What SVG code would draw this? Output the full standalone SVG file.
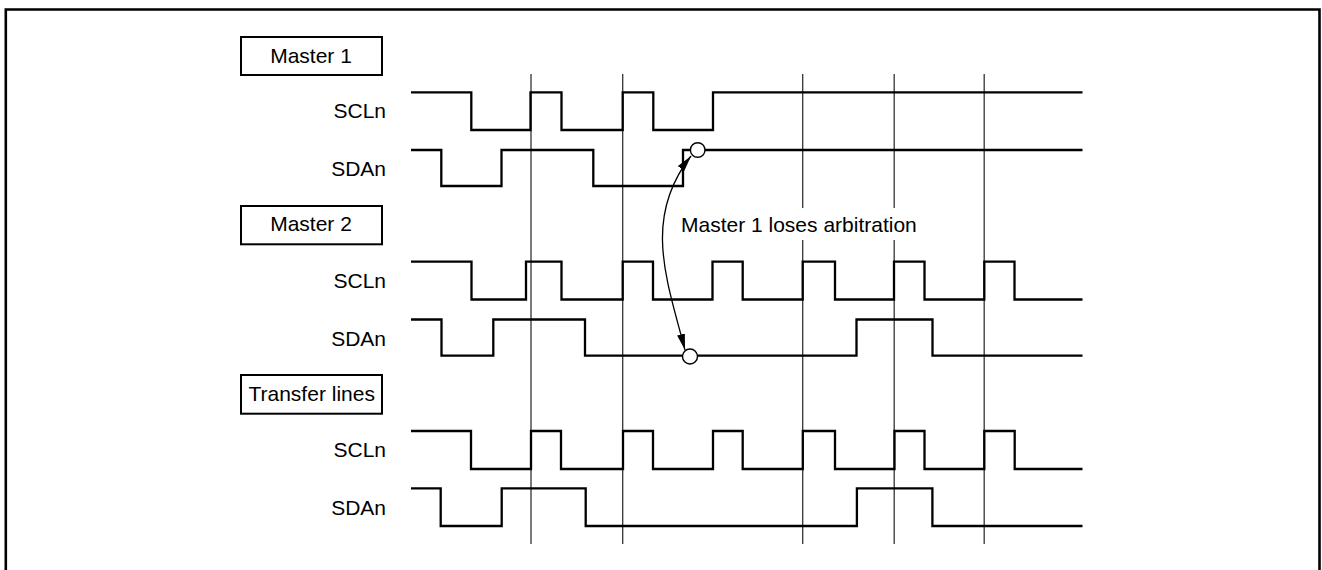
<svg xmlns="http://www.w3.org/2000/svg" width="1322" height="570" viewBox="0 0 1322 570">
<style>
.lbl{font-family:"Liberation Sans",Arial,sans-serif;font-size:21px;fill:#000}
.box{fill:#fff;stroke:#000;stroke-width:2}
.wave{fill:none;stroke:#000;stroke-width:2.3;stroke-linejoin:miter}
.grid{stroke:#333;stroke-width:1.3}
.ring{fill:#fff;stroke:#000;stroke-width:1.4}
</style>
<defs>
<marker id="ah" viewBox="0 0 16 8" refX="16" refY="4" markerWidth="16" markerHeight="8" markerUnits="userSpaceOnUse" orient="auto-start-reverse">
<path d="M0,0 L16,4 L0,8 z" fill="#000"/>
</marker>
</defs>
<rect width="1322" height="570" fill="#fff"/>
<path d="M5.8,570 V9.5 H1319.5 V570" fill="none" stroke="#000" stroke-width="2.6"/>
<g id="gridlines">
<line class="grid" x1="531" y1="74" x2="531" y2="544"/>
<line class="grid" x1="622.7" y1="74" x2="622.7" y2="544"/>
<line class="grid" x1="802.7" y1="74" x2="802.7" y2="208"/>
<line class="grid" x1="802.7" y1="240" x2="802.7" y2="544"/>
<line class="grid" x1="894.2" y1="74" x2="894.2" y2="208"/>
<line class="grid" x1="894.2" y1="240" x2="894.2" y2="544"/>
<line class="grid" x1="984.2" y1="74" x2="984.2" y2="544"/>
</g>
<g id="master1">
<rect class="box" x="241" y="37" width="141" height="38"/>
<text class="lbl" x="311" y="62.7" text-anchor="middle">Master 1</text>
<text class="lbl" x="386" y="118.3" text-anchor="end">SCLn</text>
<text class="lbl" x="386" y="176" text-anchor="end">SDAn</text>
<path class="wave" d="M411,92.3 H471.3 V130 H530.5 V92.3 H561.5 V130 H622.7 V92.3 H653.3 V130 H713 V92.3 H1082.5"/>
<path class="wave" d="M411,150 H441.3 V186 H501.5 V150 H593.3 V186 H683 V150 H1082.5"/>
</g>
<g id="master2">
<rect class="box" x="241" y="206" width="141" height="38.3"/>
<text class="lbl" x="311" y="230.7" text-anchor="middle">Master 2</text>
<text class="lbl" x="386" y="287.7" text-anchor="end">SCLn</text>
<text class="lbl" x="386" y="345.5" text-anchor="end">SDAn</text>
<path class="wave" d="M411,261.7 H471.5 V299.5 H526 V261.7 H561.5 V299.5 H622.7 V261.7 H653 V299.5 H712.5 V261.7 H742.7 V299.5 H802.7 V261.7 H835 V299.5 H894 V261.7 H924.5 V299.5 H984.3 V261.7 H1014.5 V299.5 H1082.5"/>
<path class="wave" d="M411,319.5 H441.5 V355.7 H493.3 V319.5 H585 V355.7 H856.5 V319.5 H932.5 V355.7 H1082.5"/>
</g>
<g id="transfer">
<rect class="box" x="241" y="375" width="141" height="38.7"/>
<text class="lbl" x="311.7" y="400.7" text-anchor="middle">Transfer lines</text>
<text class="lbl" x="386" y="457.3" text-anchor="end">SCLn</text>
<text class="lbl" x="386" y="514.5" text-anchor="end">SDAn</text>
<path class="wave" d="M411,431 H471 V469 H531 V431 H561 V469 H623 V431 H653 V469 H713 V431 H742.7 V469 H802.8 V431 H835 V469 H894.5 V431 H924.5 V469 H984.3 V431 H1014.7 V469 H1082.5"/>
<path class="wave" d="M411,488.3 H440.7 V526 H501.7 V488.3 H585.7 V526 H856.9 V488.3 H932.4 V526 H1082.5"/>
</g>
<g id="connectors">
<path d="M691,156 C642.3,218 666.8,280 685,350" fill="none" stroke="#000" stroke-width="1.3" marker-start="url(#ah)" marker-end="url(#ah)"/>
</g>
<g id="arbitration">
<circle class="ring" cx="697.7" cy="150" r="7.3"/>
<circle class="ring" cx="690" cy="356.5" r="7.5"/>
<text class="lbl" x="681" y="231.7">Master 1 loses arbitration</text>
</g>
</svg>
